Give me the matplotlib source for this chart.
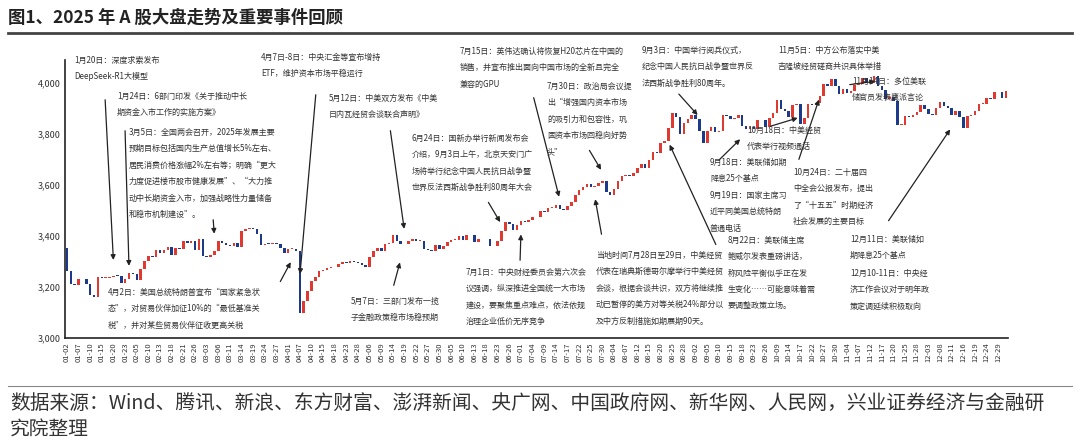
import numpy as np
import pandas as pd
import matplotlib
matplotlib.use('Agg')
import matplotlib.pyplot as plt

plt.rcParams['font.family'] = ['Noto Sans CJK SC', 'DejaVu Sans']

# trading days per month (2025, China A-share calendar)
days = {
    1: [2, 3, 6, 7, 8, 9, 10, 13, 14, 15, 16, 17, 20, 21, 22, 23, 24, 27],
    2: [5, 6, 7, 10, 11, 12, 13, 14, 17, 18, 19, 20, 21, 24, 25, 26, 27, 28],
    3: [3, 4, 5, 6, 7, 10, 11, 12, 13, 14, 17, 18, 19, 20, 21, 24, 25, 26, 27, 28, 31],
    4: [1, 2, 3, 7, 8, 9, 10, 11, 14, 15, 16, 17, 18, 21, 22, 23, 24, 25, 28, 29, 30],
    5: [6, 7, 8, 9, 12, 13, 14, 15, 16, 19, 20, 21, 22, 23, 26, 27, 28, 29, 30],
    6: [3, 4, 5, 6, 9, 10, 11, 12, 13, 16, 17, 18, 19, 20, 23, 24, 25, 26, 27, 30],
    7: [1, 2, 3, 4, 7, 8, 9, 10, 11, 14, 15, 16, 17, 18, 21, 22, 23, 24, 25, 28, 29, 30, 31],
    8: [1, 4, 5, 6, 7, 8, 11, 12, 13, 14, 15, 18, 19, 20, 21, 22, 25, 26, 27, 28, 29],
    9: [1, 2, 3, 4, 5, 8, 9, 10, 11, 12, 15, 16, 17, 18, 19, 22, 23, 24, 25, 26, 29, 30],
    10: [9, 10, 13, 14, 15, 16, 17, 20, 21, 22, 23, 24, 27, 28, 29, 30, 31],
    11: [3, 4, 5, 6, 7, 10, 11, 12, 13, 14, 17, 18, 19, 20, 21, 24, 25, 26, 27, 28],
    12: [1, 2, 3, 4, 5, 8, 9, 10, 11, 12, 15, 16, 17, 18, 19, 22, 23, 24, 25, 26, 29, 30, 31],
}

closes = [
    3262, 3211, 3206, 3230, 3230, 3211, 3169, 3160, 3240, 3236, 3236, 3241, 3244, 3243, 3214, 3231, 3253, 3250,
    3229, 3270, 3303, 3322, 3318, 3346, 3332, 3346, 3355, 3324, 3351, 3350, 3379, 3373, 3380, 3346, 3388, 3320,
    3316, 3324, 3341, 3381, 3372, 3366, 3359, 3372, 3358, 3419, 3429, 3430, 3426, 3408, 3364, 3370, 3369, 3373, 3368, 3351, 3335,
    3348, 3350, 3342, 3097, 3145, 3186, 3223, 3238, 3262, 3267, 3276, 3280, 3277, 3291, 3299, 3296, 3300, 3297, 3295, 3287, 3279,
    3316, 3343, 3352, 3342, 3370, 3374, 3403, 3380, 3367, 3367, 3380, 3387, 3380, 3380, 3348, 3346, 3340, 3363, 3347,
    3361, 3376, 3384, 3385, 3399, 3385, 3402, 3403, 3377, 3388, 3387, 3388, 3362, 3359, 3381, 3420, 3455, 3448, 3424, 3444,
    3457, 3454, 3461, 3473, 3473, 3497, 3493, 3509, 3510, 3520, 3505, 3503, 3516, 3534, 3559, 3581, 3593, 3605, 3593, 3597, 3609, 3615, 3573,
    3560, 3583, 3617, 3634, 3639, 3635, 3648, 3665, 3683, 3666, 3696, 3728, 3727, 3766, 3771, 3825, 3883, 3868, 3800, 3843, 3858,
    3876, 3858, 3813, 3766, 3812, 3826, 3807, 3812, 3875, 3871, 3860, 3861, 3876, 3831, 3820, 3828, 3821, 3853, 3853, 3828, 3862, 3883,
    3933, 3897, 3889, 3865, 3912, 3916, 3839, 3864, 3917, 3913, 3922, 3950, 3996, 3988, 4016, 3987, 3955,
    3976, 3960, 3969, 3992, 3997, 4018, 4002, 4000, 4029, 3990, 3972, 3939, 3946, 3931, 3835, 3837, 3870, 3865, 3875, 3888,
    3914, 3898, 3878, 3875, 3902, 3924, 3909, 3900, 3873, 3889, 3867, 3824, 3870, 3876, 3890, 3917, 3919, 3940, 3936, 3963, 3965, 3940, 3968,
]
first_open = 3351

dates = [f'{m:02d}-{d:02d}' for m in days for d in days[m]]
closes = np.array(closes, dtype=float)
opens = np.concatenate([[first_open], closes[:-1]])
idx = {d: i for i, d in enumerate(dates)}

# events: text, text position (fig px, first line centre), arrow tail (fig px), arrow head (date, value)
events = [
    ('1月20日：深度求索发布\nDeepSeek-R1大模型', (74, 62), (105, 97), ('01-20', 3295)),
    ('1月24日：6部门印发《关于推动中长\n期资金入市工作的实施方案》', (117, 98), (125, 128), ('01-24', 3272)),
    ('3月5日：全国两会召开，2025年发展主要\n预期目标包括国内生产总值增长5%左右、\n居民消费价格涨幅2%左右等；明确“更大\n'
     '力度促进楼市股市健康发展”、“大力推\n动中长期资金入市，加强战略性力量储备\n和稳市机制建设”。', (129, 134), (213, 217), ('03-05', 3398)),
    ('4月2日：美国总统特朗普宣布“国家紧急状\n态”，对贸易伙伴加征10%的“最低基准关\n税”，并对某些贸易伙伴征收更高关税',
     (108, 294), (279, 284), ('04-02', 3307)),
    ('4月7日-8日：中央汇金等宣布增持\nETF，维护资本市场平稳运行', (261, 59), (316, 92), ('04-07', 3240)),
    ('5月12日：中美双方发布《中美\n日内瓦经贸会谈联合声明》', (329, 100), (390, 128), ('05-19', 3417)),
    ('5月7日：三部门发布一揽\n子金融政策稳市场稳预期', (351, 303), (393, 288), ('05-16', 3307)),
    ('6月24日：国新办举行新闻发布会\n介绍，9月3日上午，北京天安门广\n场将举行纪念中国人民抗日战争暨\n世界反法西斯战争胜利80周年大会',
     (412, 140), (487, 200), ('06-24', 3445)),
    ('7月1日：中央财经委员会第六次会\n议强调，纵深推进全国统一大市场\n建设，要聚焦重点难点，依法依规\n治理企业低价无序竞争',
     (466, 274), (520, 263), ('07-01', 3417)),
    ('7月15日：英伟达确认将恢复H20芯片在中国的\n销售，并宣布推出面向中国市场的全新且完全\n兼容的GPU', (460, 53), (533, 95), ('07-15', 3543)),
    ('7月30日：政治局会议提\n出“增强国内资本市场\n的吸引力和包容性，巩\n固资本市场回稳向好势\n头”', (547, 88), (588, 148), ('07-30', 3650)),
    ('当地时间7月28日至29日，中美经贸\n代表在瑞典斯德哥尔摩举行中美经贸\n会谈，根据会谈共识，双方将继续推\n动已暂停的美方对等关税24%部分以\n及中方反制措施如期展期90天。',
     (596, 257), (602, 237), ('07-28', 3555)),
    ('9月3日：中国举行阅兵仪式，\n纪念中国人民抗日战争暨世界反\n法西斯战争胜利80周年。', (642, 52), (677, 92), ('09-03', 3866)),
    ('8月22日：美联储主席\n鲍威尔发表重磅讲话，\n称风险平衡似乎正在发\n生变化……可能意味着需\n要调整政策立场。', (728, 242), (717, 247), ('08-22', 3768)),
    ('9月18日：美联储如期\n降息25个基点', (710, 164), (717, 162), ('09-18', 3787)),
    ('9月19日：国家主席习\n近平同美国总统特朗\n普通电话', (710, 197), None, None),
    ('10月18日：中美经贸\n代表举行视频通话', (747, 132), (768, 127), ('10-17', 3866)),
    ('10月24日：二十届四\n中全会公报发布，提出\n了“十五五”时期经济\n社会发展的主要目标', (793, 174), (798, 162), ('10-24', 3945)),
    ('11月5日：中方公布落实中美\n吉隆坡经贸磋商共识具体举措', (778, 52), None, None),
    ('11月14日：多位美联\n储官员发表鹰派言论', (852, 83), (847, 85), ('11-14', 4008)),
    ('12月11日：美联储如\n期降息25个基点', (850, 241), (887, 223), ('12-11', 3827)),
    ('12月10-11日：中央经\n济工作会议对于明年政\n策定调延续积极取向', (850, 275), None, None),
]

W, H = 1080, 446
fig = plt.figure(figsize=(10.8, 4.46), dpi=100)
ax = fig.add_axes([65 / W, 1 - 338 / H, 943 / W, (338 - 60) / H])

red, blue = '#e03a30', '#1d3a8a'
x = np.arange(len(dates))
up = closes >= opens
body = np.abs(closes - opens)
body = np.where(body < 3, 3, body)
bottom = np.minimum(opens, closes)
ax.bar(x, body, bottom=bottom, width=0.65, color=np.where(up, red, blue), linewidth=0)

ax.set_xlim(-0.5, len(dates) - 0.5)
ax.set_ylim(3000, 4090)
ax.set_yticks(range(3000, 4001, 200))
ax.set_yticklabels([f'{v:,}' for v in range(3000, 4001, 200)], fontsize=6.5, color='#333')
ax.set_xticks(x[::3])
ax.set_xticklabels(dates[::3], rotation=90, fontsize=5.5, color='#333')
ax.tick_params(length=0, pad=3)
for s in ['top', 'right']:
    ax.spines[s].set_visible(False)
for s in ['left', 'bottom']:
    ax.spines[s].set_color('#222')
    ax.spines[s].set_linewidth(1.2)

for text, (tx, ty), tail, head in events:
    fig.text(tx / W, 1 - (ty - 6) / H, text, fontsize=5.8, color='#333', va='top', ha='left', linespacing=2.05)
    if tail is not None:
        ax.annotate('', xy=(idx[head[0]], head[1]), xycoords='data',
                    xytext=(tail[0], H - tail[1]), textcoords='figure pixels',
                    arrowprops=dict(arrowstyle='-|>', color='#222', lw=0.9, mutation_scale=7))

fig.text(8 / W, 1 - 18 / H, '图1、2025 年 A 股大盘走势及重要事件回顾', fontsize=12.5, fontweight='bold',
         va='center', color='#222')
fig.add_artist(plt.Line2D([8 / W, 1072 / W], [1 - 33 / H, 1 - 33 / H], color='#444', lw=2))
fig.add_artist(plt.Line2D([8 / W, 1072 / W], [1 - 386 / H, 1 - 386 / H], color='#888', lw=0.8))
fig.text(10 / W, 1 - 403 / H, '数据来源：Wind、腾讯、新浪、东方财富、澎湃新闻、央广网、中国政府网、新华网、人民网，兴业证券经济与金融研',
         fontsize=14.2, va='center', color='#333')
fig.text(10 / W, 1 - 429 / H, '究院整理', fontsize=14.2, va='center', color='#333')

fig.savefig('out.png', dpi=100)
